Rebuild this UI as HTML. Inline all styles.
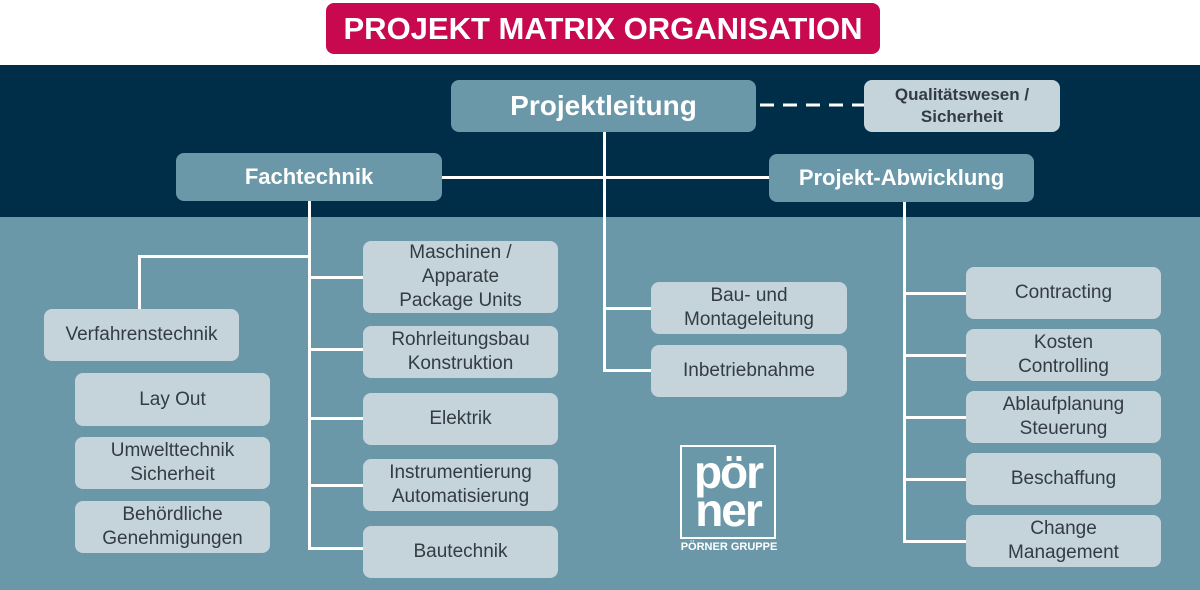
<!DOCTYPE html>
<html><head><meta charset="utf-8"><style>
body{margin:0;width:1200px;height:590px;position:relative;overflow:hidden;background:#fff;font-family:"Liberation Sans",sans-serif}
.a{position:absolute}
.b{position:absolute;border-radius:8px;display:flex;align-items:center;justify-content:center;text-align:center;box-sizing:border-box}
.l{background:#c5d3db;color:#333c42;font-size:19px;line-height:24px}
.m{background:#6b98a8;color:#fff;font-weight:bold}
.h{position:absolute;background:#fff;height:3px}
.v{position:absolute;background:#fff;width:3px}
</style></head><body>
<div class="b" style="left:326px;top:3px;width:554px;height:51px;background:#c8084f;color:#fff;font-weight:bold;font-size:31px">PROJEKT MATRIX ORGANISATION</div>
<div class="a" style="left:0;top:65px;width:1200px;height:152px;background:#002e48"></div>
<div class="a" style="left:0;top:217px;width:1200px;height:373px;background:#6b98a8"></div>

<div class="h" style="left:442px;top:176px;width:330px"></div>
<div class="v" style="left:603px;top:132px;height:239px"></div>
<div class="h" style="left:603px;top:307px;width:50px"></div>
<div class="h" style="left:603px;top:369px;width:50px"></div>
<svg class="a" style="left:756px;top:100px" width="110" height="10"><line x1="4" y1="5" x2="108" y2="5" stroke="#fff" stroke-width="3" stroke-dasharray="14,9"/></svg>

<div class="v" style="left:308px;top:201px;height:348px"></div>
<div class="h" style="left:138px;top:255px;width:173px"></div>
<div class="v" style="left:138px;top:255px;height:55px"></div>
<div class="h" style="left:308px;top:276px;width:56px"></div>
<div class="h" style="left:308px;top:348px;width:56px"></div>
<div class="h" style="left:308px;top:417px;width:56px"></div>
<div class="h" style="left:308px;top:484px;width:56px"></div>
<div class="h" style="left:308px;top:547px;width:56px"></div>

<div class="v" style="left:903px;top:202px;height:340px"></div>
<div class="h" style="left:903px;top:292px;width:64px"></div>
<div class="h" style="left:903px;top:354px;width:64px"></div>
<div class="h" style="left:903px;top:416px;width:64px"></div>
<div class="h" style="left:903px;top:478px;width:64px"></div>
<div class="h" style="left:903px;top:540px;width:64px"></div>

<div class="b m" style="left:451px;top:80px;width:305px;height:52px;font-size:28px">Projektleitung</div>
<div class="b l" style="left:864px;top:80px;width:196px;height:52px;font-weight:bold;font-size:17px;line-height:22px">Qualitätswesen /<br>Sicherheit</div>
<div class="b m" style="left:176px;top:153px;width:266px;height:48px;font-size:22px">Fachtechnik</div>
<div class="b m" style="left:769px;top:154px;width:265px;height:48px;font-size:22px">Projekt-Abwicklung</div>

<div class="b l" style="left:651px;top:282px;width:196px;height:52px">Bau- und<br>Montageleitung</div>
<div class="b l" style="left:651px;top:345px;width:196px;height:52px">Inbetriebnahme</div>

<div class="b l" style="left:363px;top:241px;width:195px;height:72px">Maschinen /<br>Apparate<br>Package Units</div>
<div class="b l" style="left:363px;top:326px;width:195px;height:52px">Rohrleitungsbau<br>Konstruktion</div>
<div class="b l" style="left:363px;top:393px;width:195px;height:52px">Elektrik</div>
<div class="b l" style="left:363px;top:459px;width:195px;height:52px">Instrumentierung<br>Automatisierung</div>
<div class="b l" style="left:363px;top:526px;width:195px;height:52px">Bautechnik</div>

<div class="b l" style="left:44px;top:309px;width:195px;height:52px">Verfahrenstechnik</div>
<div class="b l" style="left:75px;top:373px;width:195px;height:53px">Lay Out</div>
<div class="b l" style="left:75px;top:437px;width:195px;height:52px">Umwelttechnik<br>Sicherheit</div>
<div class="b l" style="left:75px;top:501px;width:195px;height:52px">Behördliche<br>Genehmigungen</div>

<div class="b l" style="left:966px;top:267px;width:195px;height:52px">Contracting</div>
<div class="b l" style="left:966px;top:329px;width:195px;height:52px">Kosten<br>Controlling</div>
<div class="b l" style="left:966px;top:391px;width:195px;height:52px">Ablaufplanung<br>Steuerung</div>
<div class="b l" style="left:966px;top:453px;width:195px;height:52px">Beschaffung</div>
<div class="b l" style="left:966px;top:515px;width:195px;height:52px">Change<br>Management</div>

<div class="a" style="left:680px;top:445px;width:96px;height:94px;border:2px solid #fff;box-sizing:border-box;color:#fff;font-weight:bold;text-align:center;font-size:46px;line-height:38px;padding-top:6px;letter-spacing:-2px">pör<br>ner</div>
<div class="a" style="left:674px;top:541px;width:110px;text-align:center;color:#fff;font-weight:bold;font-size:11px">PÖRNER GRUPPE</div>
</body></html>
